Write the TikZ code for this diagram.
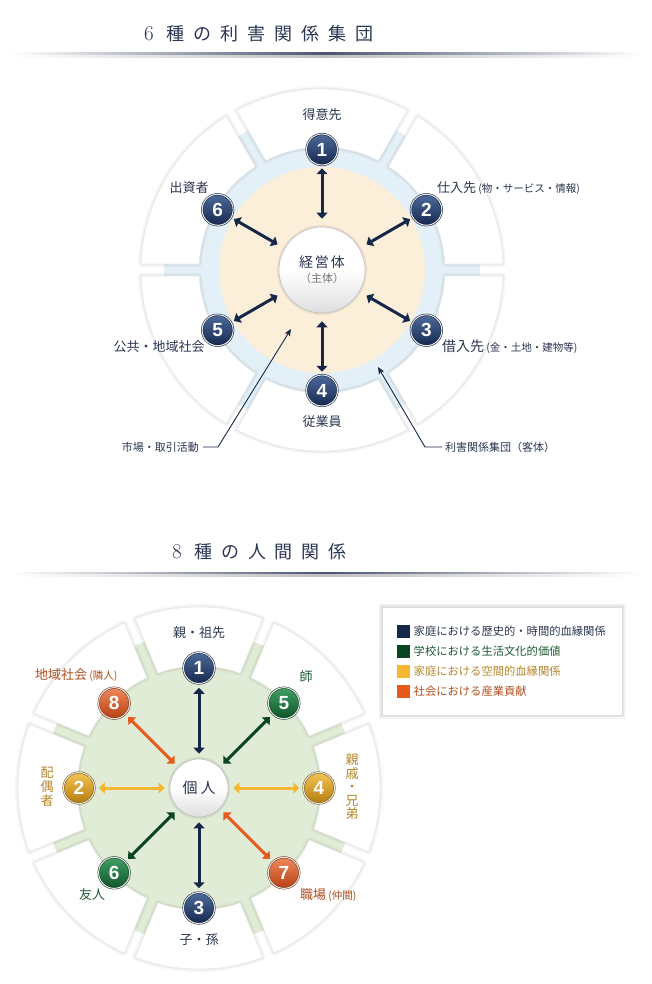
\documentclass[tikz,border=0pt]{standalone}
\usepackage{fontspec}
\newfontfamily\jp{Noto Sans CJK JP}
\newfontfamily\numfont{Liberation Sans}
\usetikzlibrary{arrows.meta}
\definecolor{navyA}{HTML}{15284A}
\definecolor{greenA}{HTML}{0B4420}
\definecolor{goldA}{HTML}{F7B733}
\definecolor{redA}{HTML}{E85A1C}
\definecolor{navyT}{HTML}{4D6B9B}
\definecolor{navyB}{HTML}{16294F}
\definecolor{navyD}{HTML}{0E1D3A}
\definecolor{greenT}{HTML}{40A065}
\definecolor{greenB}{HTML}{0E5428}
\definecolor{greenD}{HTML}{0A3A1C}
\definecolor{goldT}{HTML}{F4C552}
\definecolor{goldB}{HTML}{B57C10}
\definecolor{goldD}{HTML}{7E560A}
\definecolor{redT}{HTML}{F08A5D}
\definecolor{redB}{HTML}{B53F12}
\definecolor{redD}{HTML}{7D2A0A}
\definecolor{blueR}{HTML}{E3F0F7}
\definecolor{beige}{HTML}{FCEFDA}
\definecolor{greenBG}{HTML}{E0ECD5}
\definecolor{txtN}{HTML}{2B3650}
\definecolor{txtG}{HTML}{1F5A33}
\definecolor{txtY}{HTML}{B5862A}
\definecolor{txtR}{HTML}{B24E1E}
\definecolor{titleC}{HTML}{2A3754}
\newcommand\fsz[1]{\fontsize{#1}{#1}\selectfont}
\newcommand\drawsegs[5]{%
  \foreach \sg in {#1}{%
    \pgfmathsetmacro\aI{asin(#5/#3)}%
    \pgfmathsetmacro\aO{asin(#5/#4)}%
    \pgfmathsetmacro\sA{\sg-#2+\aI}%
    \pgfmathsetmacro\eA{\sg+#2-\aI}%
    \pgfmathsetmacro\sB{\sg+#2-\aO}%
    \pgfmathsetmacro\eB{\sg-#2+\aO}%
    \def\segp{(\sA:#3) arc[start angle=\sA, end angle=\eA, radius=#3] -- (\sB:#4) arc[start angle=\sB, end angle=\eB, radius=#4] -- cycle}%
    \draw[black, opacity=0.03, line width=6pt, line join=round] \segp;
    \draw[black, opacity=0.045, line width=3pt, line join=round] \segp;
    \fill[white] \segp;
    \draw[black!8, line width=0.6pt] \segp;
  }%
}
\tikzset{
  badge/.style n args={3}{circle, minimum size=31pt, inner sep=0pt, top color=#1, bottom color=#2,
    draw=#3, double=white!90!black, double distance=1.1pt, line width=0.5pt,
    font=\numfont\bfseries\fsz{19}, text=white},
  nb/.style={badge={navyT}{navyB}{navyD}},
  gb/.style={badge={greenT}{greenB}{greenD}},
  yb/.style={badge={goldT}{goldB}{goldD}},
  rb/.style={badge={redT}{redB}{redD}},
  arrbase/.style={{Triangle[length=6pt,width=11pt]}-{Triangle[length=6pt,width=11pt]}, line width=3pt},
  arrtop/.style={arrbase, color=navyA, shorten <=8pt, shorten >=3pt},
  arrbot/.style={arrbase, color=#1, shorten <=5pt, shorten >=4pt},
  lbl/.style={inner sep=0pt, font=\jp\fsz{13}, text=txtN},
  ttl/.style={inner sep=0pt, font=\jp\fsz{18}, text=titleC},
  centre/.style={circle, inner sep=0pt, top color=white, bottom color=black!13, middle color=white,
    draw=black!25, line width=0.6pt, preaction={draw=black, opacity=0.07, line width=4pt}},
  leader/.style={draw=navyA, line width=0.9pt, -{Stealth[length=7pt,width=6pt,inset=1.5pt]}},
}
\begin{document}
\begin{tikzpicture}[x=1pt,y=-1pt]
\fill[white] (0,0) rectangle (651,984);
\useasboundingbox (0,0) rectangle (651,984);

% ---------- titles ----------
\node[ttl, font=\fsz{21}] (ta0) at (149,34) {6};
\foreach \ch [count=\k] in {種,の,利,害,関,係,集,団}{
  \node[ttl] (ta\k) at ({149+26.9*\k},34) {\ch};
}
\shade[left color=white, right color=white, middle color=titleC!85] (10,53) rectangle (641,55.2);
\shade[left color=white, right color=white, middle color=black!25] (10,55.6) rectangle (641,57.6);

\node[ttl, font=\fsz{21}] (tb0) at (177,552) {8};
\foreach \ch [count=\k] in {種,の,人,間,関,係}{
  \node[ttl] (tb\k) at ({177+26.67*\k},552) {\ch};
}
\shade[left color=white, right color=white, middle color=titleC!85] (10,572) rectangle (641,574.2);
\shade[left color=white, right color=white, middle color=black!25] (10,574.6) rectangle (641,576.6);

% ---------- top diagram ----------
\begin{scope}[shift={(322,270)}]
  \fill[blueR] (0,0) circle[radius=158];
  \fill[beige] (0,0) circle[radius=103];
  \drawsegs{30,90,150,210,270,330}{30}{123}{181}{6}
  \node[nb] (t1) at (-90:120.5) {1};
  \node[nb] (t2) at (-30:120.5) {2};
  \node[nb] (t3) at (30:120.5) {3};
  \node[nb] (t4) at (90:120.5) {4};
  \node[nb] (t5) at (150:120.5) {5};
  \node[nb] (t6) at (-150:120.5) {6};
\end{scope}
\node[centre, minimum size=86pt, align=center] (c1) at (322,270)
  {{\jp\fsz{14}\color{txtN}経\hspace{2pt}営\hspace{2pt}体}\\[3pt]{\jp\fsz{11}\color{black!55}（主体）}};
\foreach \i in {1,...,6}{\draw[arrtop] (c1) -- (t\i);}

\node[lbl] (L1) at (322,115) {得意先};
\node[lbl, anchor=west] (L2) at (437,188) {仕入先\,{\fsz{10.5}(物・サービス・情報)}};
\node[lbl] (L6) at (189,188) {出資者};
\node[lbl] (L5) at (159,347) {公共・地域社会};
\node[lbl, anchor=west] (L3) at (442,347) {{\fsz{14}借入先}\,{\fsz{10.5}(金・土地・建物等)}};
\node[lbl] (L4) at (322,422) {従業員};
\node[lbl, font=\jp\fsz{11}, anchor=east] (Lm) at (199,447) {市場・取引活動};
\node[lbl, font=\jp\fsz{11}, anchor=west] (Lr) at (445,447) {利害関係集団（客体）};
\coordinate (mk) at (218,447);
\coordinate (mt) at (291,329);
\coordinate (rk) at (425,447);
\coordinate (rt) at (378,367);
\draw[leader] ([xshift=4pt]Lm.east) -- (mk) -- (mt);
\draw[leader] ([xshift=-3pt]Lr.west) -- (rk) -- (rt);

% ---------- bottom diagram ----------
\begin{scope}[shift={(199,788)}]
  \fill[greenBG] (0,0) circle[radius=156];
  \drawsegs{0,45,90,135,180,225,270,315}{22.5}{122}{181}{6}
  \node[nb] (b1) at (-90:120) {1};
  \node[gb] (b5) at (-45:120) {5};
  \node[yb] (b4) at (0:120) {4};
  \node[rb] (b7) at (45:120) {7};
  \node[nb] (b3) at (90:120) {3};
  \node[gb] (b6) at (135:120) {6};
  \node[yb] (b2) at (180:120) {2};
  \node[rb] (b8) at (-135:120) {8};
\end{scope}
\node[centre, minimum size=58pt] (c2) at (199,788) {\jp\fsz{15}\color{txtN}個\hspace{3pt}人};
\draw[arrbot=navyA] (c2) -- (b1);
\draw[arrbot=navyA] (c2) -- (b3);
\draw[arrbot=greenA] (c2) -- (b5);
\draw[arrbot=greenA] (c2) -- (b6);
\draw[arrbot=goldA] (c2) -- (b2);
\draw[arrbot=goldA] (c2) -- (b4);
\draw[arrbot=redA] (c2) -- (b8);
\draw[arrbot=redA] (c2) -- (b7);

\node[lbl] (M1) at (199,633) {親・祖先};
\node[lbl, text=txtG] (M5) at (306,677) {師};
\node[lbl, text=txtR, anchor=west] (M8) at (35,675) {地域社会\,{\fsz{10.5}(隣人)}};
\node[lbl, text=txtY, align=center, font=\jp\fontsize{13}{14}\selectfont] (M2) at (47,787) {配\\偶\\者};
\node[lbl, text=txtY, align=center, font=\jp\fontsize{13}{13.5}\selectfont] (M4) at (352,787) {親\\戚\\・\\兄\\弟};
\node[lbl, text=txtG] (M6) at (92,895) {友人};
\node[lbl] (M3) at (199,940) {子・孫};
\node[lbl, text=txtR, anchor=west] (M7) at (300,895) {職場\,{\fsz{10.5}(仲間)}};

% ---------- legend ----------
\draw[black, opacity=0.04, line width=7pt] (382,607) rectangle (622,715);
\draw[black, opacity=0.06, line width=3.5pt] (382,607) rectangle (622,715);
\node[draw=black!14, fill=white, line width=0.5pt, minimum width=240pt, minimum height=108pt,
  inner sep=0pt, anchor=north west] (leg) at (382,607) {};
\node[fill=navyA, minimum size=13pt, inner sep=0pt] (q1) at (403.5,631) {};
\node[fill=greenA, minimum size=13pt, inner sep=0pt] (q2) at (403.5,651) {};
\node[fill=goldA, minimum size=13pt, inner sep=0pt] (q3) at (403.5,671) {};
\node[fill=redA, minimum size=13pt, inner sep=0pt] (q4) at (403.5,691) {};
\node[lbl, font=\jp\fsz{11.3}, anchor=west] (g1) at (413.5,631) {家庭における歴史的・時間的血縁関係};
\node[lbl, font=\jp\fsz{11.3}, anchor=west, text=txtG] (g2) at (413.5,651) {学校における生活文化的価値};
\node[lbl, font=\jp\fsz{11.3}, anchor=west, text=txtY] (g3) at (413.5,671) {家庭における空間的血縁関係};
\node[lbl, font=\jp\fsz{11.3}, anchor=west, text=txtR] (g4) at (413.5,691) {社会における産業貢献};
\end{tikzpicture}
\end{document}
